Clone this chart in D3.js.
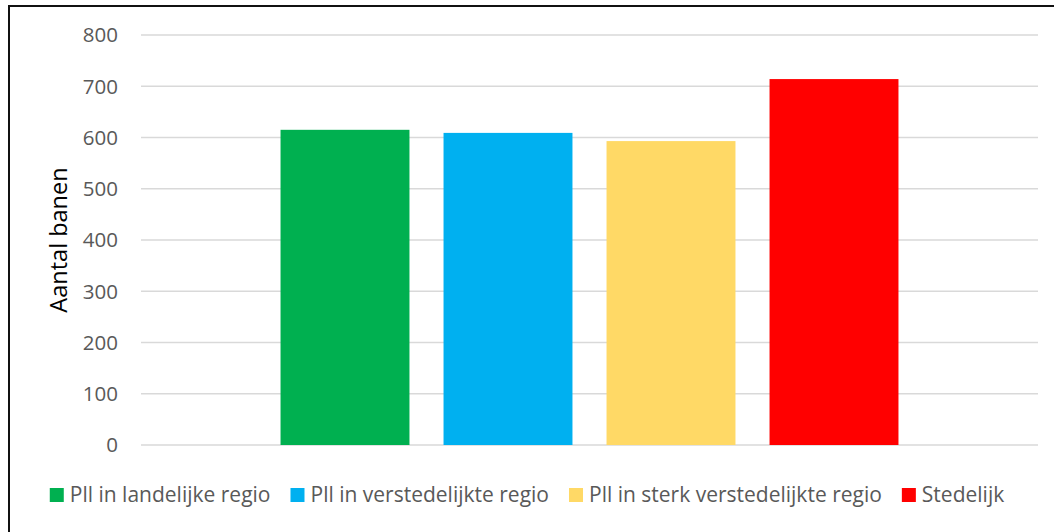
<!DOCTYPE html>
<html>
<head>
<meta charset="utf-8">
<script src="https://cdn.jsdelivr.net/npm/d3@7"></script>
<style>
  body { margin: 0; background: #fff; }
  svg text { font-family: "Open Sans", Lato, sans-serif; }
</style>
</head>
<body>
<div id="chart"></div>
<script>
// data
var series = ["Pll in landelijke regio", "Pll in verstedelijkte regio", "Pll in sterk verstedelijkte regio", "Stedelijk"];
var values = [615, 609, 593, 714];
var colors = ["#00B050", "#00B0F0", "#FFD966", "#FF0000"];
var yTicks = [0, 100, 200, 300, 400, 500, 600, 700, 800];

var W = 1054, H = 532;
var plotL = 141, plotR = 1038, plotT = 35, plotB = 445;

var svg = d3.select("#chart")
    .append("svg")
    .attr("width", W)
    .attr("height", H);

// chart frame (cut off at the right and bottom in the reference)
svg.append("rect")
    .attr("x", 9).attr("y", 6)
    .attr("width", 1200).attr("height", 700)
    .attr("fill", "none")
    .attr("stroke", "#111")
    .attr("stroke-width", 2);

var y = d3.scaleLinear().domain([0, 800]).range([plotB, plotT]);
var x = d3.scaleBand().domain(series).range([plotL, plotR])
    .paddingInner(0.209).paddingOuter(0.856);

// gridlines
svg.append("g").selectAll("line")
    .data(yTicks)
    .enter().append("line")
    .attr("x1", plotL).attr("x2", plotR)
    .attr("y1", function(d){ return y(d); })
    .attr("y2", function(d){ return y(d); })
    .attr("stroke", "#D9D9D9")
    .attr("stroke-width", 1.5);

// tick labels
svg.append("g").selectAll("text")
    .data(yTicks)
    .enter().append("text")
    .attr("x", 118)
    .attr("y", function(d){ return y(d); })
    .attr("dy", "0.36em")
    .attr("text-anchor", "end")
    .attr("fill", "#595959")
    .attr("font-size", 20.5)
    .text(function(d){ return d; });

// bars
svg.append("g").selectAll("rect")
    .data(values)
    .enter().append("rect")
    .attr("x", function(d, i){ return x(series[i]); })
    .attr("y", function(d){ return y(d); })
    .attr("width", x.bandwidth())
    .attr("height", function(d){ return y(0) - y(d); })
    .attr("fill", function(d, i){ return colors[i]; });

// y axis title
svg.append("text")
    .attr("transform", "translate(67," + (plotT + plotB) / 2 + ") rotate(-90)")
    .attr("text-anchor", "middle")
    .attr("fill", "#000")
    .attr("font-size", 23.5)
    .text("Aantal banen");

// legend
var lg = svg.append("g");
var items = lg.selectAll("g")
    .data(series)
    .enter().append("g");
items.append("rect")
    .attr("width", 14).attr("height", 14)
    .attr("y", 488)
    .attr("fill", function(d, i){ return colors[i]; });
items.append("text")
    .attr("x", 20)
    .attr("y", 502)
    .attr("fill", "#595959")
    .attr("font-size", 21)
    .text(function(d){ return d; });

var pos = 0;
items.each(function(){
    var g = d3.select(this);
    g.attr("transform", "translate(" + pos + ",0)");
    pos += 20 + g.select("text").node().getComputedTextLength() + 20;
});
var total = pos - 20;
lg.attr("transform", "translate(" + (W / 2 - total / 2) + ",0)");
</script>
</body>
</html>
